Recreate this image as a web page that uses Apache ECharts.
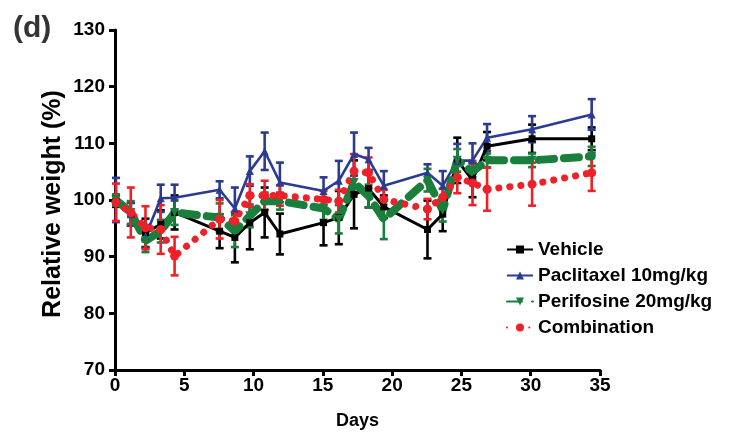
<!DOCTYPE html>
<html><head><meta charset="utf-8">
<script src="https://cdn.jsdelivr.net/npm/echarts@6/dist/echarts.min.js"></script>
<style>html,body{margin:0;padding:0;background:#fff}#c{width:729px;height:439px}</style>
</head><body><div id="c"></div>
<script>
// x positions of the time points as they sit on the drawn Days axis
var days = [0.07, 1.14, 2.2, 3.3, 4.3, 7.55, 8.65, 9.73, 10.8, 11.9, 15.05, 16.15, 17.25, 18.3, 19.4, 22.55, 23.65, 24.7, 25.8, 26.85, 30.1, 34.4];

var vehicle     = [99.8, 97.5, 94.2, 95.7, 97.8, 94.5, 93.4, 96.0, 97.8, 94.0, 96.0, 96.9, 101.0, 102.0, 98.8, 94.8, 97.5, 107.0, 103.5, 109.5, 110.8, 110.8];
var vehicleErr  = [1.0, 2.0, 2.5, 2.5, 3.0, 3.0, 4.4, 4.7, 4.4, 3.6, 4.0, 4.7, 6.0, 3.3, 2.0, 5.1, 3.0, 4.0, 3.0, 2.5, 2.5, 2.0];

var paclitaxel    = [100.0, 97.5, 93.6, 100.3, 100.4, 101.8, 98.5, 105.1, 108.6, 103.1, 101.6, 103.4, 108.1, 107.2, 102.5, 104.8, 102.5, 106.9, 107.0, 111.0, 112.5, 115.1];
var paclitaxelErr = [3.9, 2.0, 2.0, 2.4, 2.3, 1.5, 3.7, 2.6, 3.3, 3.5, 2.4, 3.5, 3.8, 2.0, 2.6, 1.5, 2.6, 3.0, 3.0, 2.4, 2.3, 2.7];

var perifosine    = [100.0, 97.8, 92.8, 94.5, 97.8, 96.9, 94.5, 97.2, 99.8, 99.8, 98.5, 96.6, 103.1, 100.7, 96.6, 103.5, 98.2, 107.0, 105.0, 107.0, 107.0, 107.7];
var perifosineErr = [1.0, 2.0, 2.0, 2.0, 2.2, 2.5, 2.8, 2.0, 1.5, 1.5, 2.0, 2.5, 2.0, 2.0, 3.5, 2.0, 2.0, 2.0, 1.5, 1.2, 1.2, 1.7];

var combination    = [99.6, 97.8, 95.1, 94.8, 90.1, 96.6, 96.3, 100.8, 100.8, 100.8, 100.1, 99.8, 105.1, 104.8, 100.1, 98.4, 100.5, 104.0, 103.0, 101.9, 102.8, 104.8];
var combinationErr = [3.3, 4.4, 3.8, 4.3, 3.4, 3.4, 1.6, 2.0, 2.6, 1.8, 1.5, 2.0, 3.0, 2.7, 1.7, 1.8, 1.5, 2.8, 3.9, 3.8, 3.8, 3.2];

var seriesNames = ['Vehicle', 'Paclitaxel 10mg/kg', 'Perifosine 20mg/kg', 'Combination'];
var yTitle = 'Relative weight (%)';
var xTitle = 'Days';
var xTicks = {min: 0, max: 35, interval: 5};
var yTicks = {min: 70, max: 130, interval: 10};

var FONT = '"Liberation Sans", Arial, Helvetica, sans-serif';

function pairs(vals){ return vals.map(function(v,i){ return [days[i], v]; }); }
function errData(vals, errs){ return vals.map(function(v,i){ return [days[i], v - errs[i], v + errs[i]]; }); }

function errSeries(id, vals, errs, color){
  return {
    type: 'custom', name: id + '_err', silent: true,
    data: errData(vals, errs),
    encode: {x: 0, y: [1, 2]},
    renderItem: function(params, api){
      var lo = api.coord([api.value(0), api.value(1)]);
      var hi = api.coord([api.value(0), api.value(2)]);
      var w = 4;
      var st = {stroke: color, lineWidth: 2.6};
      return {type: 'group', children: [
        {type: 'line', shape: {x1: lo[0], y1: lo[1], x2: hi[0], y2: hi[1]}, style: st},
        {type: 'line', shape: {x1: lo[0]-w, y1: lo[1], x2: lo[0]+w, y2: lo[1]}, style: st},
        {type: 'line', shape: {x1: hi[0]-w, y1: hi[1], x2: hi[0]+w, y2: hi[1]}, style: st}
      ]};
    }
  };
}

var BLACK = '#000000', BLUE = '#2b3a93', GREEN = '#1a7f3c', RED = '#ee2028';

var chart = echarts.init(document.getElementById('c'), null, {renderer: 'canvas'});
chart.setOption({
  animation: false,
  backgroundColor: '#ffffff',
  graphic: [
    {type: 'text', left: 13, top: 14, style: {text: '(d)', font: 'bold 30px ' + FONT, fill: '#333333'}},
    {type: 'text', x: 53, y: 204, rotation: Math.PI / 2,
     style: {text: yTitle, font: 'bold 25px ' + FONT, fill: '#000', align: 'center', verticalAlign: 'middle'}}
  ],
  grid: {left: 115, right: 129, top: 30, bottom: 69, containLabel: false},
  legend: {
    orient: 'vertical', left: 501, top: 235, itemWidth: 26, itemHeight: 10, itemGap: 7,
    data: seriesNames,
    textStyle: {fontFamily: FONT, fontWeight: 'bold', fontSize: 19, color: '#000'}
  },
  xAxis: {
    type: 'value', min: xTicks.min, max: xTicks.max, interval: xTicks.interval,
    name: xTitle, nameLocation: 'middle', nameGap: 42,
    nameTextStyle: {fontFamily: FONT, fontWeight: 'bold', fontSize: 18, color: '#000'},
    axisLine: {show: true, onZero: false, lineStyle: {color: '#000', width: 3}},
    axisTick: {show: true, length: 6, lineStyle: {color: '#000', width: 3}},
    axisLabel: {fontFamily: FONT, fontWeight: 'bold', fontSize: 19, color: '#000', margin: 6},
    splitLine: {show: false}
  },
  yAxis: {
    type: 'value', min: yTicks.min, max: yTicks.max, interval: yTicks.interval,
    axisLine: {show: true, onZero: false, lineStyle: {color: '#000', width: 3}},
    axisTick: {show: true, length: 6, lineStyle: {color: '#000', width: 3}},
    axisLabel: {fontFamily: FONT, fontWeight: 'bold', fontSize: 19, color: '#000', margin: 10},
    splitLine: {show: false}
  },
  series: [
    errSeries('vehicle', vehicle, vehicleErr, BLACK),
    {type: 'line', name: seriesNames[0], data: pairs(vehicle), color: BLACK,
     symbol: 'rect', symbolSize: 7, lineStyle: {color: BLACK, width: 3}, itemStyle: {color: BLACK}},
    errSeries('paclitaxel', paclitaxel, paclitaxelErr, BLUE),
    {type: 'line', name: seriesNames[1], data: pairs(paclitaxel), color: BLUE,
     symbol: 'triangle', symbolSize: 8, lineStyle: {color: BLUE, width: 2.6}, itemStyle: {color: BLUE}},
    errSeries('perifosine', perifosine, perifosineErr, GREEN),
    {type: 'line', name: seriesNames[2], data: pairs(perifosine), color: GREEN,
     symbol: 'triangle', symbolRotate: 180, symbolSize: 9,
     lineStyle: {color: GREEN, width: 8, type: [15, 10], cap: 'round'}, itemStyle: {color: GREEN}},
    errSeries('combination', combination, combinationErr, RED),
    {type: 'line', name: seriesNames[3], data: pairs(combination), color: RED,
     symbol: 'circle', symbolSize: 9,
     lineStyle: {color: RED, width: 7, type: [0.1, 11], cap: 'round'}, itemStyle: {color: RED}}
  ]
});
</script></body></html>
